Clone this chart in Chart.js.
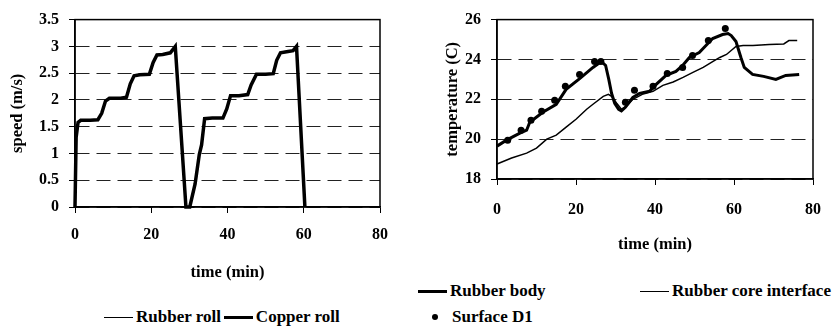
<!DOCTYPE html>
<html>
<head>
<meta charset="utf-8">
<script src="https://cdn.jsdelivr.net/npm/chart.js@4.4.0/dist/chart.umd.min.js"></script>
<style>
  body { margin: 0; background: #fff; width: 836px; height: 336px; position: relative; overflow: hidden;
         font-family: "Liberation Serif", serif; font-weight: bold; color: #000; }
  canvas { position: absolute; top: 0; }
  #speedChart { left: 0; }
  #tempChart { left: 418px; }
  .legend { position: absolute; display: flex; align-items: center; font-size: 17px; white-space: nowrap; height: 20px; }
  .ln { display: inline-block; width: 29px; border-top: 1.5px solid #000; margin-right: 3px; }
  .ln.thick { border-top-width: 3.5px; }
  .dot { display: inline-block; width: 6px; height: 6px; border-radius: 50%; background: #000; margin-right: 14px; }
</style>
</head>
<body>
<canvas id="speedChart" width="418" height="283"></canvas>
<canvas id="tempChart" width="418" height="255"></canvas>

<div class="legend" style="left:104px; top:307px;">
  <span class="ln"></span><span>Rubber roll</span>
  <span class="ln thick" style="margin-left:3px"></span><span>Copper roll</span>
</div>
<div class="legend" style="left:418px; top:281px;">
  <span class="ln thick"></span><span>Rubber body</span>
</div>
<div class="legend" style="left:640px; top:281px;">
  <span class="ln"></span><span>Rubber core interface</span>
</div>
<div class="legend" style="left:432px; top:307px;">
  <span class="dot"></span><span>Surface D1</span>
</div>

<script>
// left chart: roll speed
const speedTime = [0, 0.3, 0.8, 1.5, 4, 6, 7, 8, 9, 12, 13.5, 14.5, 15.5, 17, 19.5, 20.5, 21.5, 23, 25, 26.3,
  29.1, 30.1, 31.5, 32.6, 33.2, 34, 36, 38.8, 39.8, 40.8, 43, 45.3, 46.2, 47.6, 50, 52, 52.9, 53.9, 55.5, 57.2, 58.1, 60.3];
const copperSpeed = [0, 1.3, 1.58, 1.62, 1.62, 1.63, 1.75, 1.98, 2.03, 2.03, 2.05, 2.3, 2.45, 2.47, 2.48, 2.7, 2.84, 2.85, 2.88, 3.0,
  0, 0, 0.43, 0.98, 1.16, 1.65, 1.66, 1.66, 1.83, 2.08, 2.08, 2.1, 2.28, 2.48, 2.48, 2.49, 2.74, 2.88, 2.9, 2.92, 3.0, 0];
const rubberSpeed = [0, 1.3, 1.58, 1.62, 1.62, 1.63, 1.75, 1.98, 2.03, 2.03, 2.05, 2.3, 2.45, 2.47, 2.48, 2.7, 2.84, 2.85, 2.88, 3.0,
  0, 0, 0.43, 0.98, 1.16, 1.65, 1.66, 1.66, 1.83, 2.08, 2.08, 2.1, 2.28, 2.48, 2.48, 2.49, 2.74, 2.88, 2.9, 2.92, 3.0, 0];
const speedTicks = [0, 0.5, 1, 1.5, 2, 2.5, 3, 3.5];

// right chart: temperatures
const bodyTime = [0, 2.4, 5.8, 7.5, 8.3, 11.6, 15, 17.5, 21, 24.3, 26.4, 27.5, 28.3, 29, 29.8, 30.8, 31.5, 32.5, 34.4, 36.1,
  38.6, 40.3, 42.8, 45.3, 47, 48.7, 51.2, 52.9, 54.6, 57.1, 58.5, 59.3, 60.5, 61.75, 62.6, 64.7, 67.5, 70.6, 73.1, 76.5];
const bodyTemp = [19.65, 19.95, 20.3, 20.45, 20.85, 21.35, 21.75, 22.5, 23.05, 23.6, 23.9, 23.7, 23.0, 22.3, 21.8, 21.5, 21.42, 21.6, 22.1, 22.3,
  22.4, 22.75, 23.2, 23.4, 23.7, 24.1, 24.35, 24.7, 25.05, 25.25, 25.3, 25.2, 24.9, 24.1, 23.6, 23.25, 23.15, 23.0, 23.2, 23.25];
const coreTime = [0, 3.7, 7.5, 10, 12.6, 15, 17.5, 20, 22.7, 24.3, 26.9, 28.2, 29, 30.3, 31.5, 32.8, 34.4, 37, 39.5, 42,
  44.6, 47.1, 49.6, 52.2, 54.7, 56.4, 58.1, 60.5, 62.3, 64.8, 68.9, 72.6, 73.9, 76];
const coreTemp = [18.75, 19.05, 19.3, 19.55, 20.0, 20.2, 20.6, 21.0, 21.5, 21.75, 22.15, 22.25, 22.15, 21.8, 21.5, 21.65, 22.0, 22.27, 22.4, 22.7,
  22.87, 23.1, 23.35, 23.6, 23.9, 24.1, 24.25, 24.65, 24.7, 24.7, 24.75, 24.78, 24.95, 24.95];
const d1Time = [2.7, 6.1, 8.6, 11.3, 14.6, 17.3, 20.9, 24.7, 26.3, 32.5, 34.8, 39.5, 43.1, 47, 49.5, 53.5, 57.8];
const d1Temp = [19.95, 20.45, 20.95, 21.4, 21.95, 22.65, 23.25, 23.9, 23.9, 21.85, 22.45, 22.65, 23.3, 23.6, 24.2, 24.95, 25.55];
const tempTicks = [18, 20, 22, 24, 26];
const timeTicks = [0, 20, 40, 60, 80];

Chart.defaults.font.family = "'Liberation Serif', serif";
Chart.defaults.font.weight = "bold";
Chart.defaults.font.size = 16;
Chart.defaults.color = "#000";

const pts = (xs, ys) => xs.map((x, i) => ({ x, y: ys[i] }));

// solid box round the plot area
const frame = {
  id: "frame",
  beforeDatasetsDraw(chart) {
    const { ctx, chartArea: a } = chart;
    ctx.save();
    ctx.strokeStyle = "#000";
    ctx.lineWidth = 1.5;
    ctx.strokeRect(a.left, a.top, a.right - a.left, a.bottom - a.top);
    ctx.restore();
  },
};

function axes(yTicks, yTitle, yWidth, yTitlePad, xPad) {
  return {
    x: {
      type: "linear", min: 0, max: 80,
      afterBuildTicks: (s) => { s.ticks = timeTicks.map((v) => ({ value: v })); },
      ticks: { padding: xPad, callback: (v) => String(v) },
      grid: { drawOnChartArea: false, tickLength: 6, color: "#000" },
      border: { color: "#000", width: 1.5 },
      title: { display: true, text: "time (min)", padding: 0, font: { size: 16.5 } },
      afterFit: (s) => { s.height = 76; },
    },
    y: {
      min: yTicks[0], max: yTicks[yTicks.length - 1],
      afterBuildTicks: (s) => { s.ticks = yTicks.map((v) => ({ value: v })); },
      ticks: { padding: 10, callback: (v) => String(v) },
      grid: { color: "#222", lineWidth: 1, tickLength: 6, tickColor: "#000" },
      border: { color: "#000", width: 1.5, dash: [14, 7] },
      title: { display: true, text: yTitle, padding: { top: yTitlePad, bottom: 0 }, font: { size: 16.5 } },
      afterFit: (s) => { s.width = yWidth; },
    },
  };
}

new Chart(document.getElementById("speedChart"), {
  type: "scatter",
  data: {
    datasets: [
      { label: "Rubber roll", data: pts(speedTime, rubberSpeed), showLine: true, borderColor: "#000", borderWidth: 1.5, pointRadius: 0, clip: 4 },
      { label: "Copper roll", data: pts(speedTime, copperSpeed), showLine: true, borderColor: "#000", borderWidth: 3.5, pointRadius: 0, clip: 4 },
    ],
  },
  options: {
    responsive: false, animation: false, devicePixelRatio: 1,
    layout: { padding: { left: 0, top: 15, right: 38, bottom: 0 } },
    plugins: { legend: { display: false }, tooltip: { enabled: false } },
    scales: axes(speedTicks, "speed (m/s)", 75, 8, 12),
  },
  plugins: [frame],
});

new Chart(document.getElementById("tempChart"), {
  type: "scatter",
  data: {
    datasets: [
      { label: "Rubber body", data: pts(bodyTime, bodyTemp), showLine: true, borderColor: "#000", borderWidth: 3, pointRadius: 0, clip: 4 },
      { label: "Rubber core interface", data: pts(coreTime, coreTemp), showLine: true, borderColor: "#000", borderWidth: 1.5, pointRadius: 0, clip: 4 },
      { label: "Surface D1", data: pts(d1Time, d1Temp), showLine: false, pointRadius: 3.5, pointBackgroundColor: "#000", pointBorderWidth: 0 },
    ],
  },
  options: {
    responsive: false, animation: false, devicePixelRatio: 1,
    layout: { padding: { left: 0, top: 15, right: 22, bottom: 0 } },
    plugins: { legend: { display: false }, tooltip: { enabled: false } },
    scales: axes(tempTicks, "temperature (C)", 79, 25, 15),
  },
  plugins: [frame],
});
</script>
</body>
</html>
